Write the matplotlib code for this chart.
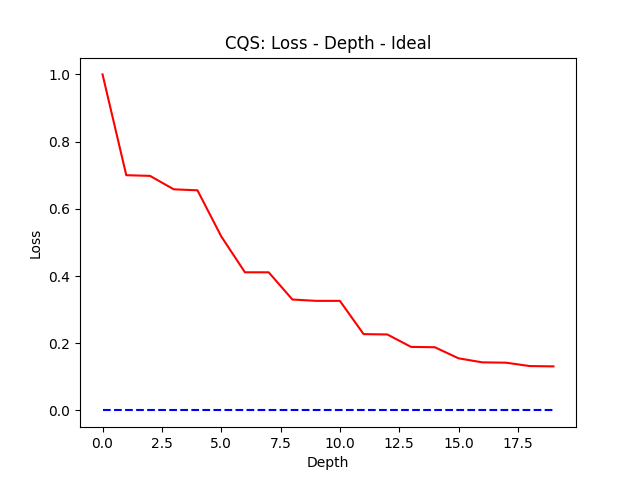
import numpy as np
import matplotlib
matplotlib.use('Agg')
import matplotlib.pyplot as plt

depth = np.arange(20)
loss = [1.0, 0.700, 0.698, 0.658, 0.655, 0.518, 0.411, 0.411, 0.330, 0.326,
        0.326, 0.227, 0.226, 0.189, 0.188, 0.155, 0.143, 0.142, 0.132, 0.131]
ideal = [0.0] * 20

fig = plt.figure(figsize=(6.4, 4.8), dpi=100)
ax = fig.add_subplot(111)
ax.plot(depth, loss, color='red')
ax.plot(depth, ideal, color='blue', linestyle='--')
ax.set_title('CQS: Loss - Depth - Ideal')
ax.set_xlabel('Depth')
ax.set_ylabel('Loss')
fig.savefig('out.png')
plt.close(fig)
